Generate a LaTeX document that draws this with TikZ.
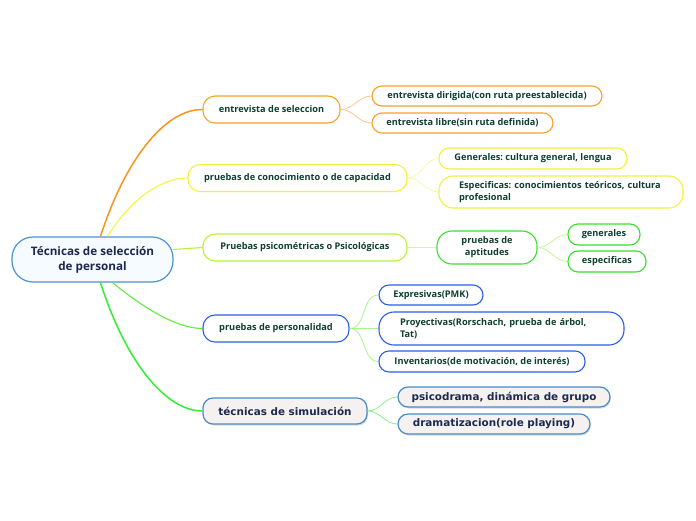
\documentclass[tikz,border=0pt]{standalone}
\usepackage{fontspec}
\setmainfont{Open Sans}
\newfontfamily\simfont{DejaVu Sans}
\usetikzlibrary{shadows}
\frenchspacing
\definecolor{txt}{HTML}{0E3F30}
\definecolor{navy}{HTML}{1B2A4E}
\definecolor{rootb}{HTML}{4A94D0}
\definecolor{rootf}{HTML}{F6FBFF}
\definecolor{orb}{HTML}{F7A128}
\definecolor{orl}{HTML}{F7941D}
\definecolor{orc}{HTML}{FBC78A}
\definecolor{yeb}{HTML}{F2F23A}
\definecolor{yel}{HTML}{F6F640}
\definecolor{yec}{HTML}{F8F8A8}
\definecolor{ygb}{HTML}{B8F03C}
\definecolor{ygc}{HTML}{D6F59C}
\definecolor{grb}{HTML}{3ADF2E}
\definecolor{grc}{HTML}{C2F59A}
\definecolor{blb}{HTML}{2B5CF0}
\definecolor{pel}{HTML}{5CEE3A}
\definecolor{pec}{HTML}{A8F58C}
\definecolor{siml}{HTML}{33EE33}
\definecolor{simc}{HTML}{8CEE8C}
\definecolor{simb}{HTML}{4A8CC8}
\definecolor{simf}{HTML}{F5F1F1}
\tikzset{
  box/.style={draw, rounded corners=10pt, line width=1.1pt, fill=white, inner sep=0pt,
    font=\frenchspacing\bfseries\fontsize{9.2}{12}\selectfont, text=txt, align=center},
  mainbox/.style={box, rounded corners=12pt, minimum height=27pt},
  simbox/.style={draw=simb, fill=simf, line width=1.2pt, rounded corners=10pt, inner sep=0pt,
    font=\simfont\bfseries\fontsize{10.4}{12}\selectfont, text=navy,
    drop shadow={opacity=0.3, shadow xshift=1pt, shadow yshift=-1.5pt}},
  link/.style={line width=0.8pt}
}
\begin{document}
\begin{tikzpicture}[x=1pt,y=-1pt]
\useasboundingbox (0,0) rectangle (696,520);

% root
\node[draw=rootb, fill=rootf, line width=1.2pt, rounded corners=21pt, minimum width=161pt,
  minimum height=45pt, inner sep=0pt, align=center, text=navy,
  font=\bfseries\fontsize{11.7}{15}\selectfont] (root) at (92.5,259.5) {Técnicas de selección\\de personal};

% main branches
\node[mainbox, draw=orb, minimum width=137pt] (ent) at (271.5,109.5) {entrevista de seleccion};
\node[mainbox, draw=yeb, minimum width=219pt] (con) at (297.5,178) {pruebas de conocimiento o de capacidad};
\node[mainbox, draw=ygb, minimum width=204pt] (psi) at (305,247.5) {Pruebas psicométricas o Psicológicas};
\node[mainbox, draw=blb, minimum width=146pt] (per) at (276,328.5) {pruebas de personalidad};
\node[simbox, minimum width=164pt, minimum height=26pt] (sim) at (285,411) {técnicas de simulación};

% children of entrevista
\node[box, draw=orb, minimum width=230pt, minimum height=20pt] (e1) at (487,96) {entrevista dirigida(con ruta preestablecida)};
\node[box, draw=orb, minimum width=181pt, minimum height=20pt] (e2) at (462.5,123) {entrevista libre(sin ruta definida)};

% children of conocimiento
\node[box, draw=yeb, minimum width=188pt, minimum height=21pt] (c1) at (533,158.5) {Generales: cultura general, lengua};
\node[box, draw=yeb, rounded corners=14pt, minimum width=244pt, minimum height=32pt, text width=204pt, align=left] (c2) at (561,192)
  {Especificas: conocimientos teóricos, cultura\\profesional};

% psicometricas
\node[box, draw=grb, rounded corners=15pt, minimum width=100pt, minimum height=33pt] (apt) at (487,247.5) {pruebas de\\aptitudes};
\node[box, draw=grb, minimum width=72pt, minimum height=21pt] (a1) at (604,234.5) {generales};
\node[box, draw=grb, minimum width=78pt, minimum height=21pt] (a2) at (607,261.5) {especificas};

% personalidad
\node[box, draw=blb, minimum width=104pt, minimum height=20pt] (p1) at (431,295) {Expresivas(PMK)};
\node[box, draw=blb, rounded corners=15pt, minimum width=245pt, minimum height=33pt, text width=203pt, align=left] (p2) at (501.5,328.5)
  {Proyectivas(Rorschach, prueba de árbol,\\Tat)};
\node[box, draw=blb, minimum width=206pt, minimum height=21pt] (p3) at (482,361.5) {Inventarios(de motivación, de interés)};

% simulacion
\node[simbox, minimum width=212pt, minimum height=20pt] (s1) at (504,397) {psicodrama, dinámica de grupo};
\node[simbox, minimum width=192pt, minimum height=20pt] (s2) at (494,424) {dramatizacion(role playing)};

% main connectors
\draw[orl, line width=1.5pt] ([xshift=8pt]root.north) .. controls (125,160) and (165,109) .. (ent.west);
\draw[yel, line width=1.1pt] ([xshift=15pt]root.north) .. controls (130,200) and (160,178) .. (con.west);
\draw[ygb, line width=1.1pt] ([yshift=10pt,xshift=-1pt]root.east) -- (psi.west);
\draw[pel, line width=1.1pt] ([xshift=20pt]root.south) .. controls (140,305) and (175,328.5) .. (per.west);
\draw[siml, line width=1.5pt] ([xshift=8pt]root.south) .. controls (125,360) and (165,411) .. (sim.west);

% child connectors
\draw[orc, link] (ent.east) to[out=0,in=180] (e1.west);
\draw[orc, link] (ent.east) to[out=0,in=180] (e2.west);
\draw[yec, link] (con.east) to[out=0,in=180] (c1.west);
\draw[yec, link] (con.east) to[out=0,in=180] (c2.west);
\draw[ygc, line width=1.2pt] (psi.east) -- (apt.west);
\draw[grc, link] (apt.east) to[out=0,in=180] (a1.west);
\draw[grc, link] (apt.east) to[out=0,in=180] (a2.west);
\draw[pec, link] (per.east) to[out=0,in=180] (p1.west);
\draw[pec, link] (per.east) to[out=0,in=180] (p2.west);
\draw[pec, link] (per.east) to[out=0,in=180] (p3.west);
\draw[simc, link] (sim.east) to[out=0,in=180] (s1.west);
\draw[simc, link] (sim.east) to[out=0,in=180] (s2.west);
\end{tikzpicture}
\end{document}
